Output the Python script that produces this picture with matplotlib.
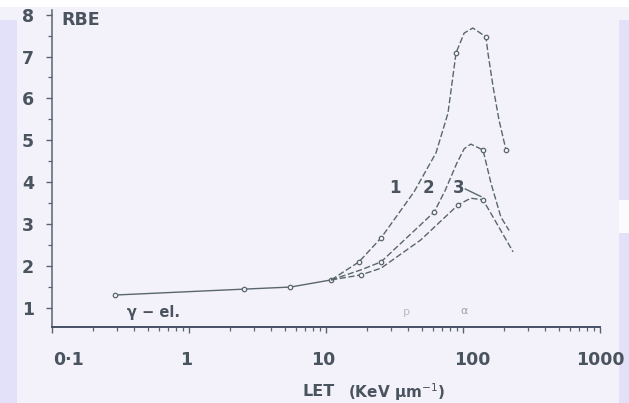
import matplotlib
matplotlib.use("agg")

import matplotlib.pyplot as plt
import matplotlib.transforms as mtransforms
from matplotlib.patches import Rectangle


# Low-LET part shared by all three curves (gamma rays / electrons).
shared_let = [0.29, 2.5, 5.5, 10.9]
shared_rbe = [1.31, 1.45, 1.50, 1.67]

# Curves 1-3, LET in keV/um.
c1_let = [10.9, 17.4, 25.2, 43.9, 63.5, 77.7, 89, 102, 118, 147, 152, 166, 183, 206]
c1_rbe = [1.67, 2.10, 2.67, 3.77, 4.70, 5.65, 7.09, 7.56, 7.68, 7.47, 7.09, 6.27, 5.49, 4.77]
c1_marked = [1, 2, 6, 9, 13]

c2_let = [10.9, 18, 25.2, 61.6, 74, 90, 102, 114, 140, 160, 189, 217]
c2_rbe = [1.67, 1.91, 2.10, 3.29, 3.80, 4.45, 4.80, 4.91, 4.77, 3.98, 3.17, 2.85]
c2_marked = [2, 3, 8]

c3_let = [10.9, 18, 25.2, 49, 92, 114, 140, 174, 232]
c3_rbe = [1.67, 1.79, 1.95, 2.62, 3.46, 3.62, 3.58, 3.05, 2.34]
c3_marked = [1, 4, 6]

curve_names = ["1", "2", "3"]
name_let = [32, 56, 93]
name_rbe = [3.86, 3.86, 3.86]

x_ticks = [0.1, 1, 10, 100, 1000]
x_tick_labels = ["0·1", "1", "10", "100", "1000"]
y_ticks = [1, 2, 3, 4, 5, 6, 7, 8]

ink = "#5a666e"
text_col = "#4a545e"
bg = "#f3f2fa"

fig = plt.figure(figsize=(6.29, 4.03), dpi=100, facecolor=bg)

# slide background strips
fig.patches.append(Rectangle((0, 1 - 7 / 403), 1, 7 / 403, transform=fig.transFigure,
                             facecolor="#ffffff", edgecolor="none", zorder=-3))
fig.patches.append(Rectangle((0, 0), 17 / 629, 1 - 20 / 403, transform=fig.transFigure,
                             facecolor="#e2e1f9", edgecolor="none", zorder=-2))
fig.patches.append(Rectangle((619 / 629, 0), 10 / 629, 1 - 20 / 403, transform=fig.transFigure,
                             facecolor="#e2e1f9", edgecolor="none", zorder=-2))
fig.patches.append(Rectangle((619 / 629, 1 - 233 / 403), 10 / 629, 33 / 403,
                             transform=fig.transFigure, facecolor="#fbfbfd",
                             edgecolor="none", zorder=-1))

ax = fig.add_axes([52 / 629, 1 - 327 / 403, 548 / 629, 317 / 403])
ax.set_facecolor("none")
ax.set_xscale("log")
ax.set_xlim(0.1, 1000)
ax.set_ylim(0.547, 8.11)

line_kw = dict(color=ink, lw=1.0, marker="o", ms=3.2, mfc=bg, mec=ink, mew=0.9)
ax.plot(shared_let, shared_rbe, **line_kw)
for lets, rbes, marked in [(c1_let, c1_rbe, c1_marked),
                           (c2_let, c2_rbe, c2_marked),
                           (c3_let, c3_rbe, c3_marked)]:
    ax.plot(lets, rbes, ls=(0, (4.5, 1.8)), markevery=marked, **line_kw)

for name, lx, ly in zip(curve_names, name_let, name_rbe):
    ax.text(lx, ly, name, ha="center", va="center", fontsize=12,
            fontweight="bold", color=text_col)
# pointer from the "3" label to its curve
ax.plot([104, 135], [3.84, 3.66], color=ink, lw=1.0)

ax.text(0.55, 0.9, "γ − el.", ha="center", va="center", fontsize=10.5,
        fontweight="bold", color=text_col)
ax.text(39, 0.9, "p", ha="center", va="center", fontsize=8, color="#b8bcc6")
ax.text(102, 0.92, "α", ha="center", va="center", fontsize=8, color="#9aa0ab")

ax.text(0.018, 0.968, "RBE", transform=ax.transAxes, ha="left", va="center",
        fontsize=12.5, fontweight="bold", color=text_col)
fig.text(302 / 629, 1 - 392 / 403, "LET", ha="left", va="center",
         fontsize=11.5, fontweight="bold", color=text_col)
fig.text(348 / 629, 1 - 392 / 403, "(KeV μm$^{-1}$)", ha="left", va="center",
         fontsize=11, fontweight="bold", color=text_col)

for side in ["top", "right"]:
    ax.spines[side].set_visible(False)
ax.spines["left"].set_color("#5a6470")
ax.spines["bottom"].set_color("#46506a")
ax.spines["left"].set_linewidth(1.1)
ax.spines["bottom"].set_linewidth(1.4)

ax.set_yticks(y_ticks)
ax.set_yticks([v + 0.5 for v in y_ticks[:-1]], minor=True)
ax.set_xticks(x_ticks)
ax.set_xticklabels(x_tick_labels)
ax.tick_params(axis="both", which="major", length=4, width=1.0, colors="#5a6470",
               labelcolor=text_col, labelsize=12.5)
ax.tick_params(axis="both", which="minor", length=3, width=0.9, colors="#5a6470")
ax.tick_params(axis="x", which="major", pad=13)
ax.tick_params(axis="y", which="major", pad=9)
for lab in ax.get_xticklabels() + ax.get_yticklabels():
    lab.set_fontweight("bold")

# nudge the hand-lettered x labels
x_label_shift = [17, -3, -3, 9, 0]
for lab, dx in zip(ax.get_xticklabels(), x_label_shift):
    lab.set_transform(lab.get_transform()
                      + mtransforms.ScaledTranslation(dx / 100, 0, fig.dpi_scale_trans))

fig.savefig("out.png", dpi=100, facecolor=fig.get_facecolor())
